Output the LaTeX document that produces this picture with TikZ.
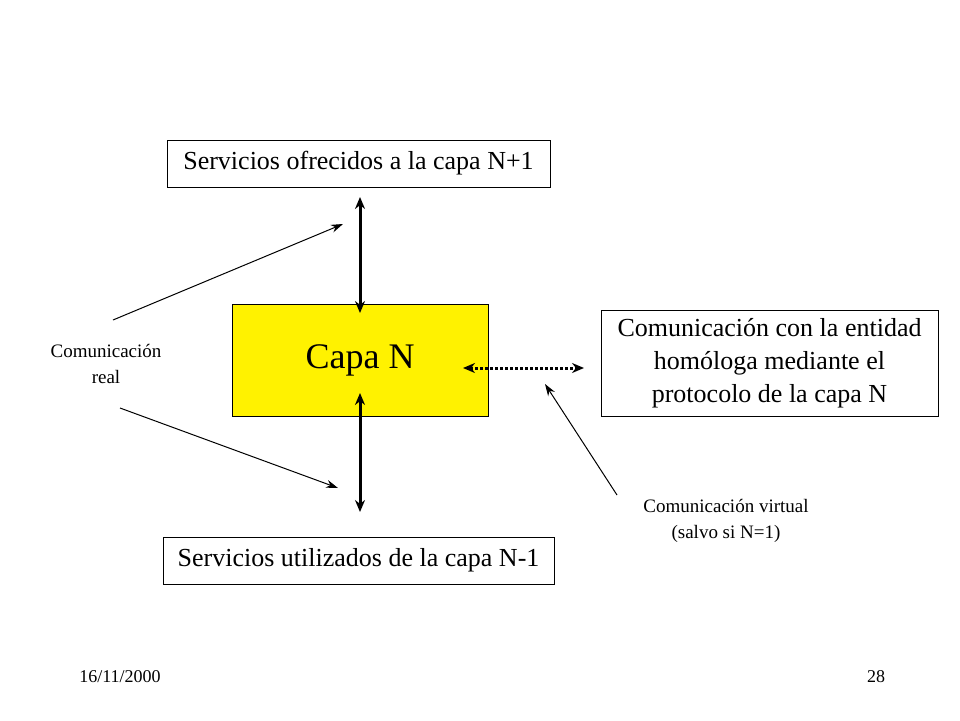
\documentclass[tikz,border=0pt]{standalone}
\usepackage{fontspec}
\setmainfont{Liberation Serif}
\usetikzlibrary{arrows.meta}
\begin{document}
\begin{tikzpicture}[x=1pt,y=-1pt,
  box/.style={draw,thick,inner sep=0,font=\fontsize{26}{30}\selectfont,align=center},
  lbl/.style={font=\fontsize{19}{26}\selectfont,align=center},
  dbl/.style={line width=3pt,{Stealth[length=12pt,width=10pt]}-{Stealth[length=12pt,width=10pt]}},
  pointer/.style={line width=1pt,-{Stealth[length=12pt,width=8pt]}}]
\useasboundingbox (0,0) rectangle (960,720);
\node[box,minimum width=383pt,minimum height=47pt] (top) at (358.5,163.5) {Servicios ofrecidos a la capa N+1};
\node[box,fill=yellow,minimum width=256pt,minimum height=112pt,font=\fontsize{36}{40}\selectfont] (capa) at (360,360) {Capa N};
\node[box,minimum width=337pt,minimum height=106pt,font=\fontsize{26}{33}\selectfont] (right) at (769.5,363) {Comunicación con la entidad\\homóloga mediante el\\protocolo de la capa N};
\node[box,minimum width=391pt,minimum height=47pt] (bot) at (358.5,560.5) {Servicios utilizados de la capa N-1};
\coordinate (t1) at (360,197); \coordinate (t2) at (360,313);
\coordinate (b1) at (360,393); \coordinate (b2) at (360,512);
\draw[dbl] (t1) -- (t2);
\draw[dbl] (b1) -- (b2);
\coordinate (d1) at (463,368); \coordinate (d2) at (584,368);
\draw[line width=3pt,dotted,{Stealth[length=12pt,width=10pt]}-{Stealth[length=12pt,width=10pt]}] (d1) -- (d2);
\node[lbl] (real) at (106,364) {Comunicación\\real};
\node[lbl] (virt) at (726,521) {Comunicación virtual\\(salvo si N=1)};
\coordinate (r1) at (113,320); \coordinate (r2) at (343,224);
\coordinate (r3) at (120,408); \coordinate (r4) at (338,488);
\coordinate (v1) at (617,495); \coordinate (v2) at (545,384);
\draw[pointer] (r1) -- (r2);
\draw[pointer] (r3) -- (r4);
\draw[pointer] (v1) -- (v2);
\node[font=\fontsize{18}{20}\selectfont] (date) at (120,677) {16/11/2000};
\node[font=\fontsize{18}{20}\selectfont] (num) at (876,677) {28};
\end{tikzpicture}
\end{document}
